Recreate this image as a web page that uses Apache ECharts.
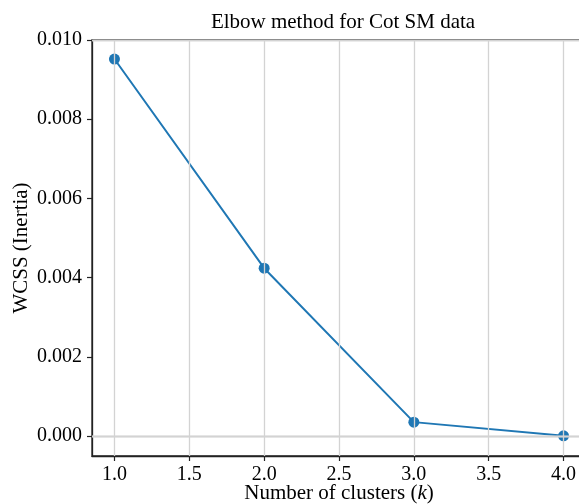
<!DOCTYPE html>
<html><head><meta charset="utf-8">
<script src="https://cdn.jsdelivr.net/npm/echarts@6/dist/echarts.min.js"></script>
<style>html,body{margin:0;padding:0;background:#fff}#c{width:579px;height:504px}</style>
</head><body><div id="c"></div>
<script>
const kValues = [1, 2, 3, 4];
const wcss = [0.00952, 0.00424, 0.000355, 0.00001];
const xTicks = [1.0, 1.5, 2.0, 2.5, 3.0, 3.5, 4.0];
const yTicks = [0.000, 0.002, 0.004, 0.006, 0.008, 0.010];

const FONT = '"Liberation Serif", "Times New Roman", serif';
const chart = echarts.init(document.getElementById('c'));
const gridColor = '#d3d3d3';
chart.setOption({
  animation: false,
  title: {
    text: 'Elbow method for Cot SM data',
    left: 338, top: 7, textAlign: 'center',
    textStyle: {fontFamily: FONT, fontSize: 21, fontWeight: 'normal', color: '#000'}
  },
  grid: {left: 92, top: 40, width: 494, height: 416, containLabel: false, outerBoundsMode: 'none',
    show: true, borderColor: '#222', borderWidth: 1.3, backgroundColor: 'transparent'},
  xAxis: {
    type: 'value', min: 0.85, max: 4.15,
    name: 'Number of clusters ({i|k})', nameLocation: 'middle', nameGap: 27, nameMoveOverlap: false,
    nameTextStyle: {fontFamily: FONT, fontSize: 21, color: '#000',
      rich: {i: {fontFamily: FONT, fontSize: 21, fontStyle: 'italic', color: '#000'}}},
    axisLine: {show: true, onZero: false, lineStyle: {color: '#222', width: 1.3}},
    axisTick: {show: true, customValues: xTicks, length: 5, lineStyle: {color: '#222', width: 1.2}},
    axisLabel: {customValues: xTicks, fontFamily: FONT, fontSize: 20, color: '#000', margin: 9,
      formatter: v => v.toFixed(1)},
    splitLine: {show: false}
  },
  yAxis: {
    type: 'value', min: -0.0005, max: 0.010,
    name: 'WCSS (Inertia)', nameLocation: 'middle', nameGap: 60, nameMoveOverlap: false,
    nameTextStyle: {fontFamily: FONT, fontSize: 21, color: '#000'},
    axisLine: {show: true, onZero: false, lineStyle: {color: '#222', width: 1.3}},
    axisTick: {show: true, customValues: yTicks, length: 5, lineStyle: {color: '#222', width: 1.2}},
    axisLabel: {customValues: yTicks, fontFamily: FONT, fontSize: 20, color: '#000', margin: 10,
      formatter: v => v.toFixed(3)},
    splitLine: {show: false}
  },
  series: [
    {
      type: 'line', data: [], z: 1, silent: true,
      markLine: {
        silent: true, symbol: ['none', 'none'], label: {show: false},
        lineStyle: {color: gridColor, width: 1.3, type: 'solid'},
        data: xTicks.map(v => ({xAxis: v})).concat(yTicks.slice(0, 5).map(v => ({yAxis: v})))
      }
    },
    {
      type: 'line', z: 3,
      data: kValues.map((k, i) => [k, wcss[i]]),
      symbol: 'circle', symbolSize: 11,
      lineStyle: {color: '#1f77b4', width: 2},
      itemStyle: {color: '#1f77b4'}
    }
  ]
});
</script></body></html>
